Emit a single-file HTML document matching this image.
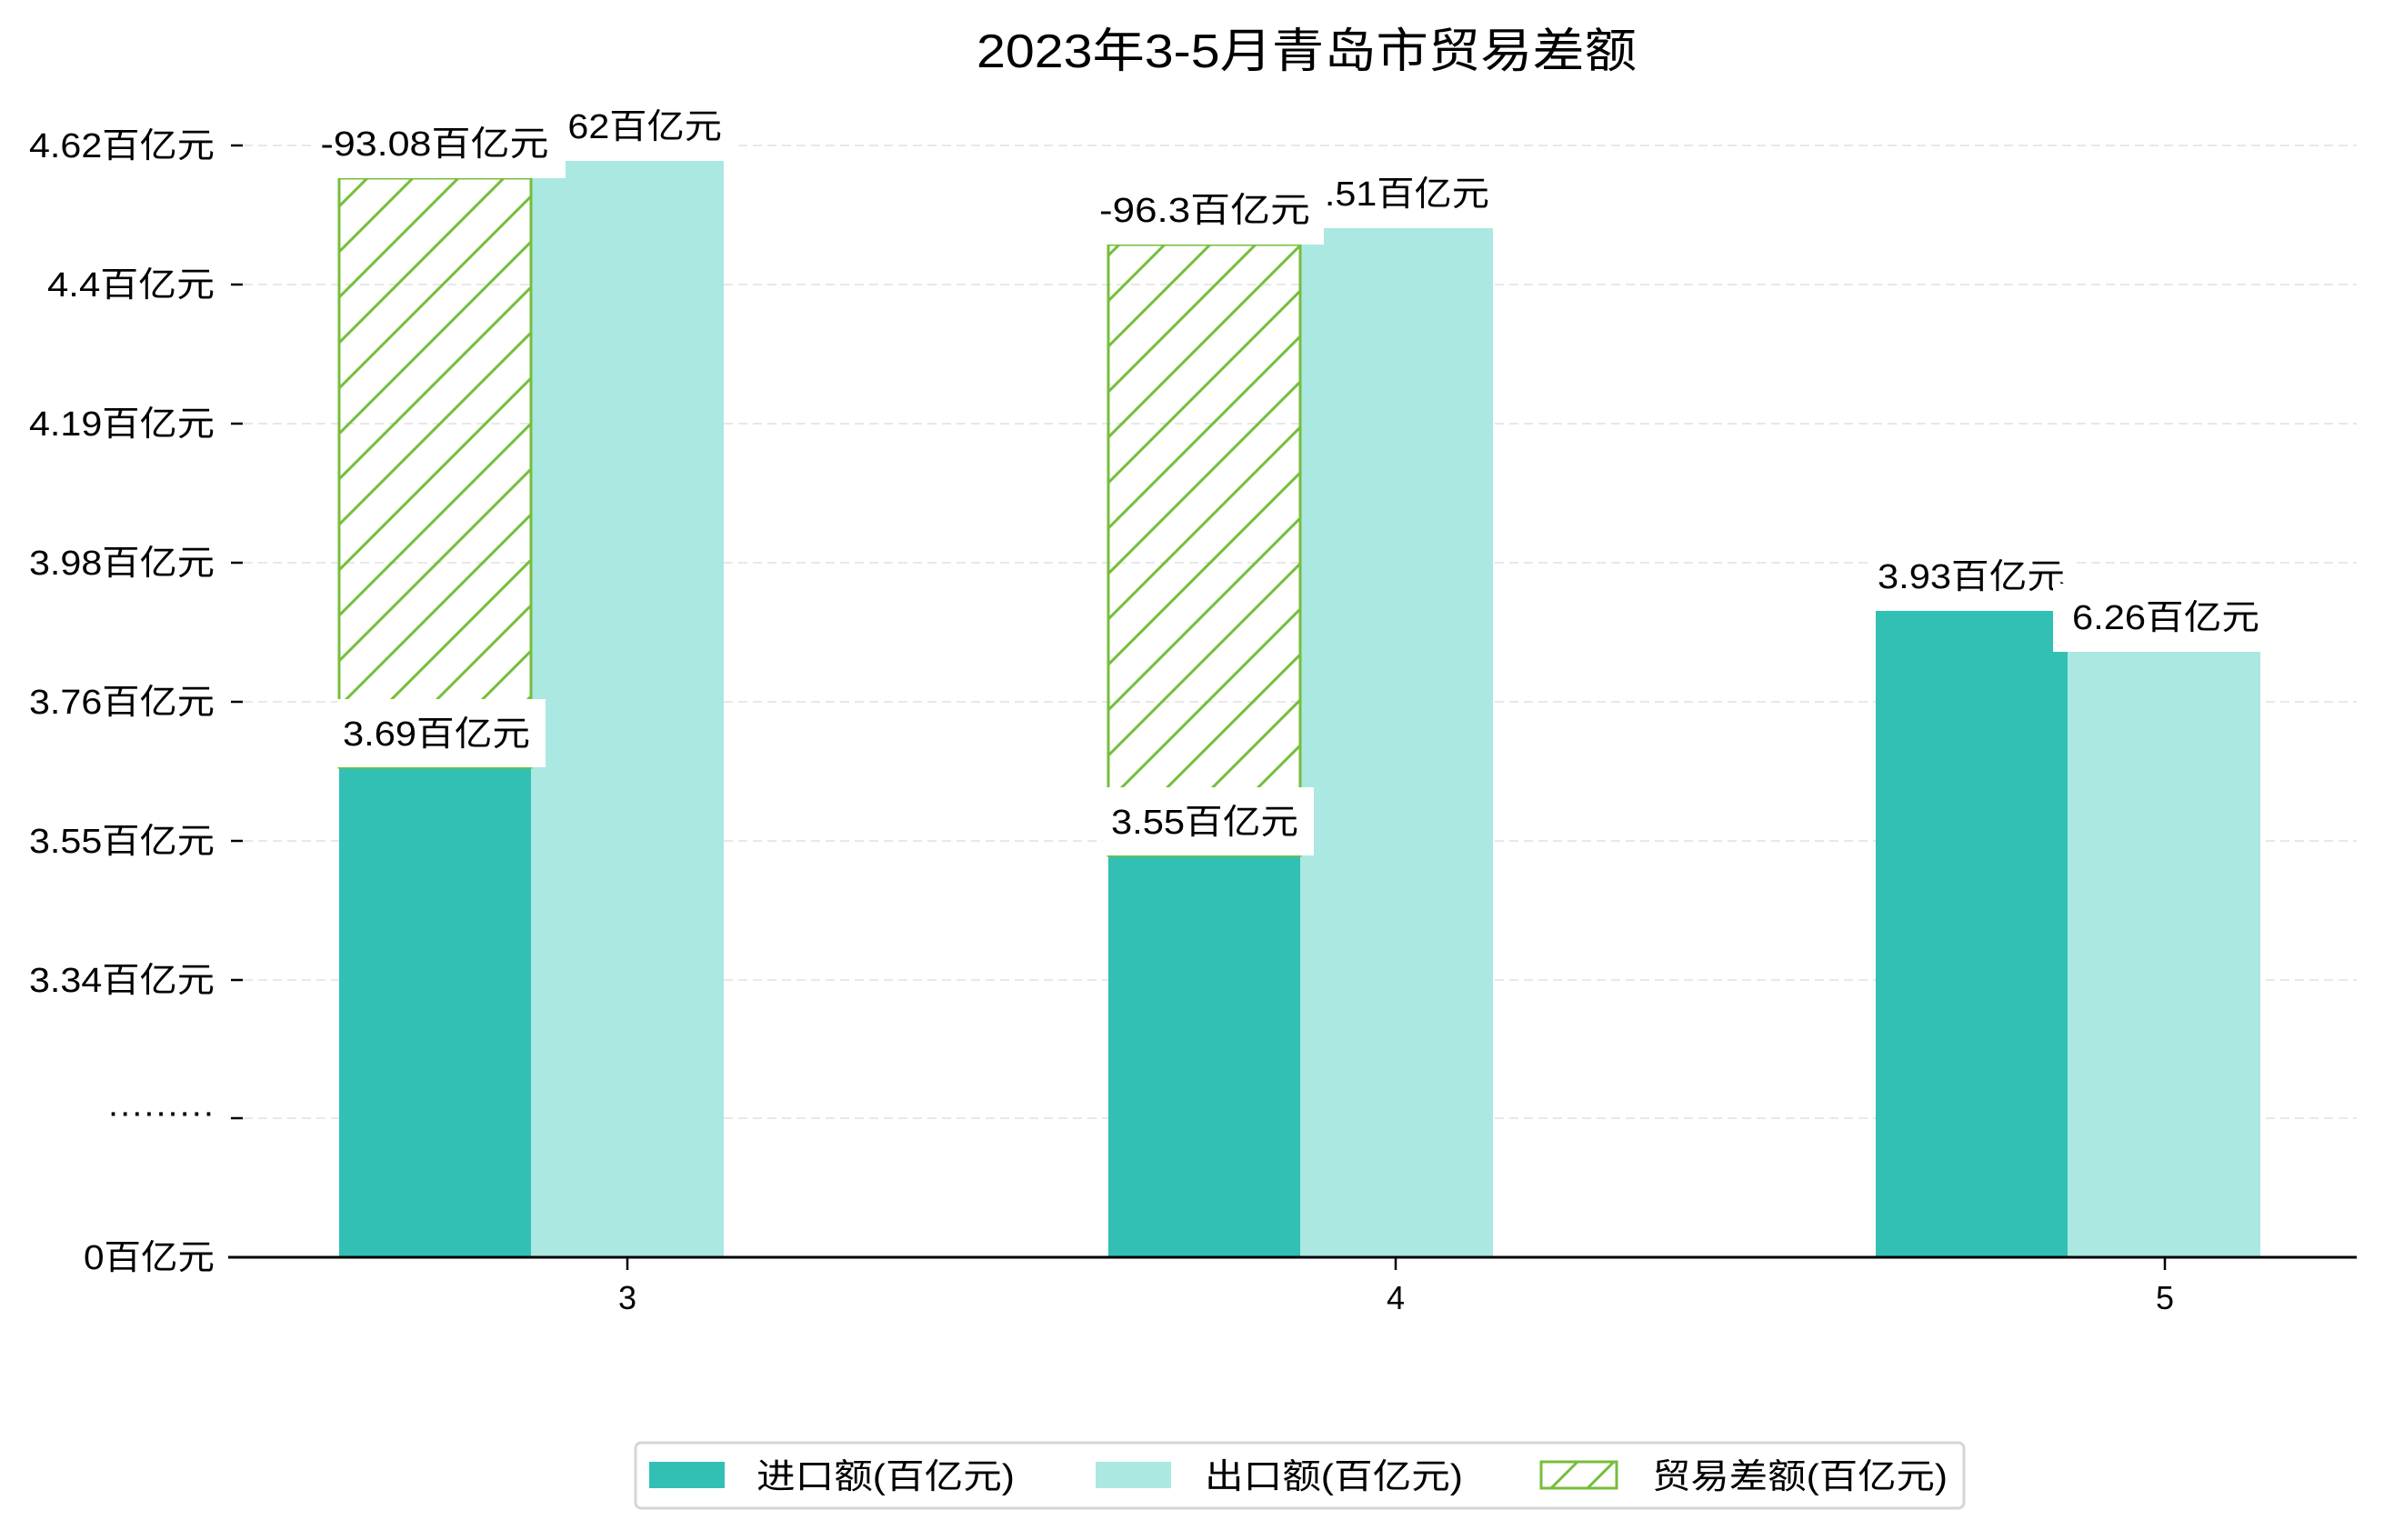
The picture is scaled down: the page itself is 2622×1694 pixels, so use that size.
<!DOCTYPE html>
<html><head><meta charset="utf-8"><style>
html,body{margin:0;padding:0;background:#fff;}
svg text{font-family:"Liberation Sans","Noto Sans CJK SC",sans-serif;fill:#000;}
</style></head><body>
<svg width="2622" height="1689" viewBox="0 0 2622 1689" xmlns="http://www.w3.org/2000/svg">
<defs>
<pattern id="h" patternUnits="userSpaceOnUse" width="50" height="50">
<path d="M-12.5,12.5 L12.5,-12.5 M0,50 L50,0 M37.5,62.5 L62.5,37.5" stroke="#76be3c" stroke-width="3"/>
</pattern>
<pattern id="h2" patternUnits="userSpaceOnUse" width="40" height="40" patternTransform="translate(1695,1608)">
<path d="M-10,10 L10,-10 M0,40 L40,0 M30,50 L50,30" stroke="#76be3c" stroke-width="3"/>
</pattern>
</defs>
<rect width="2622" height="1689" fill="#fff"/>
<text x="1437" y="74" font-size="52" text-anchor="middle" textLength="726" lengthAdjust="spacingAndGlyphs">2023年3-5月青岛市贸易差额</text>
<g stroke="#e8e8e8" stroke-width="2" stroke-dasharray="10,6">
<line x1="268" x2="2592" y1="160" y2="160"/><line x1="268" x2="2592" y1="313" y2="313"/>
<line x1="268" x2="2592" y1="466" y2="466"/><line x1="268" x2="2592" y1="619" y2="619"/>
<line x1="268" x2="2592" y1="772" y2="772"/><line x1="268" x2="2592" y1="925" y2="925"/>
<line x1="268" x2="2592" y1="1078" y2="1078"/><line x1="268" x2="2592" y1="1230" y2="1230"/>
</g>
<g stroke="#000" stroke-width="2.5">
<line x1="254" x2="267" y1="160" y2="160"/><line x1="254" x2="267" y1="313" y2="313"/>
<line x1="254" x2="267" y1="466" y2="466"/><line x1="254" x2="267" y1="619" y2="619"/>
<line x1="254" x2="267" y1="772" y2="772"/><line x1="254" x2="267" y1="925" y2="925"/>
<line x1="254" x2="267" y1="1078" y2="1078"/><line x1="254" x2="267" y1="1230" y2="1230"/>
</g>
<g font-size="38" text-anchor="end" lengthAdjust="spacingAndGlyphs">
<text x="236" y="173" textLength="204" lengthAdjust="spacingAndGlyphs">4.62百亿元</text>
<text x="236" y="326" textLength="184" lengthAdjust="spacingAndGlyphs">4.4百亿元</text>
<text x="236" y="479" textLength="204" lengthAdjust="spacingAndGlyphs">4.19百亿元</text>
<text x="236" y="632" textLength="204" lengthAdjust="spacingAndGlyphs">3.98百亿元</text>
<text x="236" y="785" textLength="204" lengthAdjust="spacingAndGlyphs">3.76百亿元</text>
<text x="236" y="938" textLength="204" lengthAdjust="spacingAndGlyphs">3.55百亿元</text>
<text x="236" y="1091" textLength="204" lengthAdjust="spacingAndGlyphs">3.34百亿元</text>
<text x="236" y="1236" textLength="118" lengthAdjust="spacingAndGlyphs">·········</text>
<text x="236" y="1396" textLength="144" lengthAdjust="spacingAndGlyphs">0百亿元</text>
</g>
<!-- bars -->
<rect x="373" y="844" width="211" height="539" fill="#31c0b3"/>
<rect x="584" y="177" width="212" height="1206" fill="#abe8e2"/>
<rect x="1219" y="941" width="211" height="442" fill="#31c0b3"/>
<rect x="1430" y="251" width="212" height="1132" fill="#abe8e2"/>
<rect x="2063" y="672" width="211" height="711" fill="#31c0b3"/>
<rect x="2274" y="717" width="212" height="666" fill="#abe8e2"/>
<rect x="373" y="196" width="211" height="648" fill="url(#h)" stroke="#76be3c" stroke-width="3"/>
<rect x="1219" y="269" width="211" height="672" fill="url(#h)" stroke="#76be3c" stroke-width="3"/>
<!-- axis -->
<line x1="251" x2="2592" y1="1383" y2="1383" stroke="#000" stroke-width="3"/>
<g stroke="#000" stroke-width="2.5">
<line x1="690" x2="690" y1="1383" y2="1397"/><line x1="1535" x2="1535" y1="1383" y2="1397"/><line x1="2381" x2="2381" y1="1383" y2="1397"/>
</g>
<g font-size="36" text-anchor="middle">
<text x="690" y="1440">3</text><text x="1535" y="1440">4</text><text x="2381" y="1440">5</text>
</g>
<!-- labels -->
<g font-size="38" text-anchor="middle">
<rect x="371" y="769" width="229" height="75" fill="#fff"/><text x="480" y="820" textLength="206" lengthAdjust="spacingAndGlyphs">3.69百亿元</text>
<rect x="580" y="102" width="226" height="75" fill="#fff"/><text x="692" y="152" textLength="204" lengthAdjust="spacingAndGlyphs">4.62百亿元</text>
<rect x="343" y="121" width="279" height="75" fill="#fff"/><text x="478" y="171" textLength="251" lengthAdjust="spacingAndGlyphs">-93.08百亿元</text>
<rect x="1213" y="866" width="232" height="75" fill="#fff"/><text x="1325" y="917" textLength="206" lengthAdjust="spacingAndGlyphs">3.55百亿元</text>
<rect x="1424" y="176" width="226" height="75" fill="#fff"/><text x="1536" y="226" textLength="204" lengthAdjust="spacingAndGlyphs">4.51百亿元</text>
<rect x="1194" y="194" width="262" height="75" fill="#fff"/><text x="1325" y="244" textLength="232" lengthAdjust="spacingAndGlyphs">-96.3百亿元</text>
<rect x="2054" y="597" width="229" height="75" fill="#fff"/><text x="2168" y="647" textLength="206" lengthAdjust="spacingAndGlyphs">3.93百亿元</text>
<rect x="2258" y="642" width="240" height="75" fill="#fff"/><text x="2382" y="692" textLength="206" lengthAdjust="spacingAndGlyphs">6.26百亿元</text>
</g>
<!-- legend -->
<rect x="699" y="1587" width="1461" height="72" rx="6" fill="#fff" stroke="#d6d6d6" stroke-width="3"/>
<rect x="714" y="1608" width="83" height="29" fill="#31c0b3"/>
<rect x="1205" y="1608" width="83" height="29" fill="#abe8e2"/>
<rect x="1695" y="1608" width="83" height="29" fill="url(#h2)" stroke="#76be3c" stroke-width="3"/>
<g font-size="38">
<text x="832" y="1637" textLength="284" lengthAdjust="spacingAndGlyphs">进口额(百亿元)</text>
<text x="1325" y="1637" textLength="284" lengthAdjust="spacingAndGlyphs">出口额(百亿元)</text>
<text x="1817" y="1637" textLength="325" lengthAdjust="spacingAndGlyphs">贸易差额(百亿元)</text>
</g>
</svg>
</body></html>
